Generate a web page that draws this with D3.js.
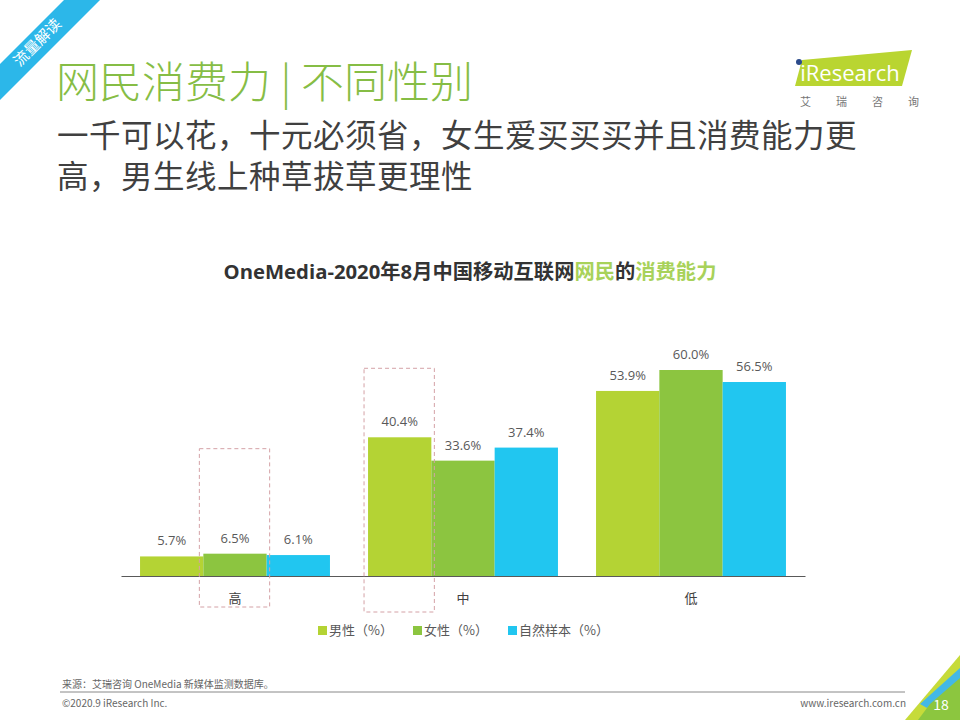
<!DOCTYPE html>
<html><head><meta charset="utf-8">
<script src="https://cdn.jsdelivr.net/npm/d3@7"></script>
<style>body{margin:0;background:#fff;}svg{display:block;font-family:"Microsoft YaHei","Noto Sans CJK SC","Open Sans",sans-serif;}</style>
</head><body><svg id="c" width="960" height="720"></svg>
<script>
const categories = ["高", "中", "低"];
const seriesNames = ["男性（%）", "女性（%）", "自然样本（%）"];
const male = [5.7, 40.4, 53.9];
const female = [6.5, 33.6, 60.0];
const natural = [6.1, 37.4, 56.5];
const colors = ["#b4d334", "#8cc540", "#21c6f0"];
const seriesValues = [male, female, natural];

const svg = d3.select("#c");
const font = '"Microsoft YaHei","Noto Sans CJK SC",sans-serif';

// top-left ribbon
svg.append("polygon").attr("points", "0,64 64,0 100,0 0,100").attr("fill", "#2cb7e9");
svg.append("text").attr("transform", "translate(41,46) rotate(-45)").attr("text-anchor", "middle")
  .attr("font-size", 15).attr("fill", "#fff").attr("font-family", font).text("流量解读");

// title
svg.append("text").attr("x", 56).attr("y", 98).attr("font-size", 43).attr("font-weight", 300).attr("fill", "#86bd45")
  .attr("font-family", font).text("网民消费力 | 不同性别");
svg.append("text").attr("x", 57).attr("y", 147).attr("font-size", 31.5).attr("letter-spacing", 0.5).attr("fill", "#404040")
  .attr("font-family", font).text("一千可以花，十元必须省，女生爱买买买并且消费能力更");
svg.append("text").attr("x", 57).attr("y", 188).attr("font-size", 31.5).attr("letter-spacing", 0.5).attr("fill", "#404040")
  .attr("font-family", font).text("高，男生线上种草拔草更理性");

// logo
const logo = svg.append("g");
logo.append("polygon").attr("points", "802,60 912,50 902,86 795,86").attr("fill", "#b9d531");
logo.append("circle").attr("cx", 799).attr("cy", 62).attr("r", 3).attr("fill", "#2b4a8a");
logo.append("text").attr("x", 850).attr("y", 81).attr("text-anchor", "middle").attr("font-size", 22)
  .attr("fill", "#fff").attr("font-family", "'Open Sans',sans-serif").text("iResearch");
["艾","瑞","咨","询"].forEach((t,i)=>logo.append("text").attr("x", 800 + i*36).attr("y", 106)
  .attr("font-size", 11).attr("fill", "#777").attr("font-family", font).text(t));

// chart title
const ct = svg.append("text").attr("x", 470).attr("y", 279).attr("text-anchor", "middle")
  .attr("font-size", 20.3).attr("font-weight", "bold").attr("fill", "#333").attr("font-family", "'Open Sans','Noto Sans CJK SC',sans-serif");
ct.append("tspan").text("OneMedia-2020年8月中国移动互联网");
ct.append("tspan").attr("fill", "#a8d25a").text("网民");
ct.append("tspan").text("的");
ct.append("tspan").attr("fill", "#a8d25a").text("消费能力");

// scales
const x0 = d3.scaleBand().domain(categories).range([121, 805]).paddingInner(0.167).paddingOuter(0.0835);
const x1 = d3.scaleBand().domain([0,1,2]).range([0, x0.bandwidth()]);
const y = d3.scaleLinear().domain([0, 60]).range([576, 370]);

const g = svg.append("g");
categories.forEach((c, ci) => {
  seriesValues.forEach((vals, si) => {
    const bx = x0(c) + x1(si);
    g.append("rect").attr("x", bx).attr("y", y(vals[ci])).attr("width", x1.bandwidth())
      .attr("height", y(0) - y(vals[ci])).attr("fill", colors[si]);
    g.append("text").attr("x", bx + x1.bandwidth()/2).attr("y", y(vals[ci]) - 11)
      .attr("text-anchor", "middle").attr("font-size", 13).attr("fill", "#595959")
      .attr("font-family", "'Open Sans',sans-serif").text(vals[ci].toFixed(1) + "%");
  });
});

// axis
const ax = svg.append("g").attr("transform", `translate(0,${y(0)})`)
  .call(d3.axisBottom(x0).tickSize(0).tickPadding(18));
ax.select(".domain").attr("stroke", "#595959").attr("stroke-width", 1.2);
ax.selectAll("text").attr("font-size", 13).attr("fill", "#404040").attr("font-family", font);

// dashed highlight boxes
function box(cat, si, top, bottom) {
  const bx = x0(cat) + x1(si);
  svg.append("rect").attr("x", bx - 4).attr("y", top).attr("width", x1.bandwidth() + 7)
    .attr("height", bottom - top).attr("fill", "none").attr("stroke", "#d4a1a6")
    .attr("stroke-width", 1).attr("stroke-dasharray", "4,3");
}
box("高", 1, y(female[0]) - 105, 607);
box("中", 0, y(male[1]) - 69, 612);

// legend
const lg = svg.append("g");
const lx = [318, 413, 508];
seriesNames.forEach((n, i) => {
  lg.append("rect").attr("x", lx[i]).attr("y", 626).attr("width", 9).attr("height", 9).attr("fill", colors[i]);
  lg.append("text").attr("x", lx[i] + 11).attr("y", 635).attr("font-size", 13).attr("fill", "#595959")
    .attr("font-family", font).text(n);
});

// footer
svg.append("text").attr("x", 62).attr("y", 688).attr("font-size", 10).attr("fill", "#666")
  .attr("font-family", font).text("来源：艾瑞咨询 OneMedia 新媒体监测数据库。");
svg.append("line").attr("x1", 60).attr("x2", 905).attr("y1", 692).attr("y2", 692).attr("stroke", "#888").attr("stroke-width", 1);
svg.append("text").attr("x", 62).attr("y", 707).attr("font-size", 10).attr("fill", "#666")
  .attr("font-family", font).text("©2020.9 iResearch Inc.");
svg.append("text").attr("x", 906).attr("y", 707).attr("text-anchor", "end").attr("font-size", 10).attr("fill", "#666")
  .attr("font-family", font).text("www.iresearch.com.cn");

// bottom-right corner
svg.append("polygon").attr("points", "960,655 960,720 905,720").attr("fill", "#c6db3a");
svg.append("polygon").attr("points", "960,668 960,680 927,708 920,704").attr("fill", "#43b8e6");
svg.append("polygon").attr("points", "960,678 960,720 918,720 930,704").attr("fill", "#8cc63f");
svg.append("text").attr("x", 941).attr("y", 710).attr("text-anchor", "middle").attr("font-size", 14)
  .attr("fill", "#fff").attr("font-family", font).text("18");
</script></body></html>
